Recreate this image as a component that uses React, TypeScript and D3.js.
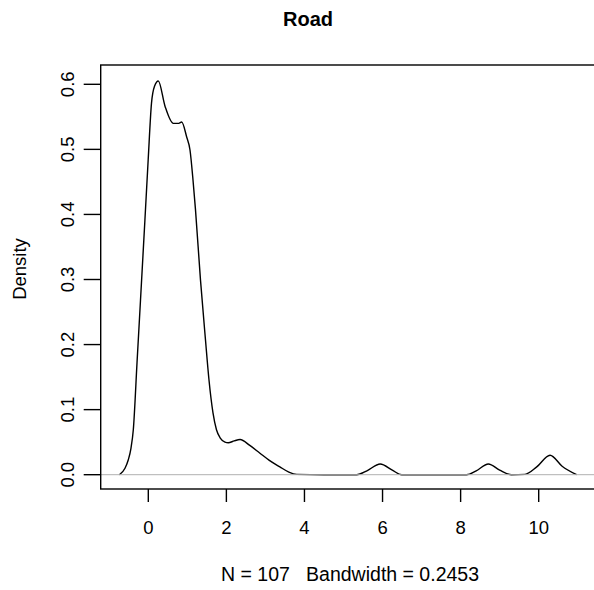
import React from "react";
import * as d3 from "d3";

const title = "Road";
const yLabel = "Density";
const subtitle = "N = 107   Bandwidth = 0.2453";
const xTicks = [0, 2, 4, 6, 8, 10];
const yTicks = [0.0, 0.1, 0.2, 0.3, 0.4, 0.5, 0.6];

const densityX = [
  -0.74, -0.597, -0.512, -0.443, -0.384, -0.289, -0.2, -0.087, -0.003, 0.082, 0.159, 0.256,
  0.43, 0.64, 0.78, 0.855, 0.983, 1.068, 1.145, 1.209, 1.337, 1.465, 1.554, 1.657, 1.746,
  1.849, 1.964, 2.049,
  2.2, 2.35, 2.6, 2.86, 3.1, 3.37, 3.6, 3.8,
  4.5, 5.34, 5.6, 5.94, 6.25, 6.49, 7.3, 8.15, 8.4, 8.71, 9.0, 9.3, 9.65,
  9.95, 10.29, 10.6, 10.97,
];
const densityY = [
  0.0, 0.01, 0.023, 0.041, 0.069, 0.172, 0.268, 0.391, 0.484, 0.571, 0.597, 0.605,
  0.566, 0.54, 0.54, 0.542, 0.519, 0.499, 0.453, 0.407, 0.299, 0.207, 0.146, 0.095, 0.069,
  0.056, 0.05, 0.049,
  0.052, 0.054, 0.045, 0.033, 0.022, 0.012, 0.004, 0.0005,
  0.0, 0.0, 0.006, 0.0165, 0.007, 0.0, 0.0, 0.0, 0.006, 0.0165, 0.007, 0.0, 0.0005,
  0.012, 0.03, 0.013, 0.0,
];

export default function App() {
  const W = 594;
  const H = 590;
  const boxLeft = 100.7;
  const boxTop = 65;
  const boxBottom = 489;
  const boxRight = 600;

  const x = d3.scaleLinear().domain([0, 10]).range([148.3, 538.7]);
  const y = d3.scaleLinear().domain([0, 0.6]).range([474.7, 84.3]);

  const pts: [number, number][] = densityX.map((v, i) => [v, densityY[i]]);
  const line = d3
    .line<[number, number]>()
    .x((d) => x(d[0]))
    .y((d) => y(d[1]))
    .curve(d3.curveMonotoneX);

  const font = "'Liberation Sans', Arial, sans-serif";

  return (
    <svg
      width={W}
      height={H}
      style={{ position: "absolute", left: 0, top: 0, background: "#fff" }}
      fontFamily={font}
    >
      <rect x={0} y={0} width={W} height={H} fill="#fff" />
      <path d={line(pts) || ""} fill="none" stroke="#000" strokeWidth={1.4} />
      <line x1={boxLeft} x2={boxRight} y1={y(0)} y2={y(0)} stroke="#b0b0b0" strokeWidth={1} />
      <rect
        x={boxLeft}
        y={boxTop}
        width={boxRight - boxLeft}
        height={boxBottom - boxTop}
        fill="none"
        stroke="#000"
        strokeWidth={1.4}
      />
      {xTicks.map((t) => (
        <g key={"x" + t}>
          <line x1={x(t)} x2={x(t)} y1={boxBottom} y2={boxBottom + 13} stroke="#000" strokeWidth={1.4} />
          <text x={x(t)} y={534} textAnchor="middle" fontSize={18.5} fill="#000">
            {t}
          </text>
        </g>
      ))}
      {yTicks.map((t) => (
        <g key={"y" + t}>
          <line x1={boxLeft - 17} x2={boxLeft} y1={y(t)} y2={y(t)} stroke="#000" strokeWidth={1.4} />
          <text
            transform={`translate(74,${y(t)}) rotate(-90)`}
            textAnchor="middle"
            fontSize={18.5}
            fill="#000"
          >
            {t.toFixed(1)}
          </text>
        </g>
      ))}
      <text x={308} y={26} textAnchor="middle" fontSize={20} fontWeight="bold" fill="#000">
        {title}
      </text>
      <text
        transform={`translate(26,${(boxTop + boxBottom) / 2 - 8}) rotate(-90)`}
        textAnchor="middle"
        fontSize={18.5}
        fill="#000"
      >
        {yLabel}
      </text>
      <text x={350} y={581} textAnchor="middle" fontSize={19.5} fill="#000" xmlSpace="preserve" style={{ whiteSpace: "pre" }}>
        {subtitle}
      </text>
    </svg>
  );
}
